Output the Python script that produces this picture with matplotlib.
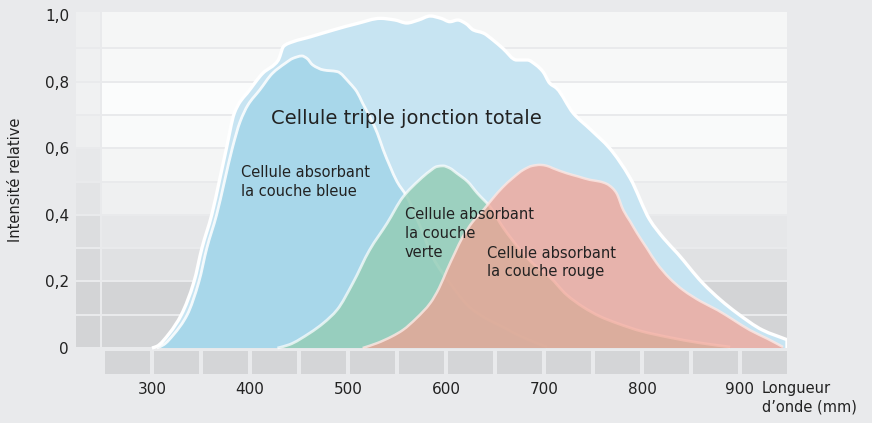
import matplotlib.pyplot as plt
from matplotlib.path import Path
from matplotlib.patches import PathPatch

# Spectral response (wavelength in nm, relative intensity)
total_nm = [300, 305, 318, 330, 343, 351, 361, 369, 376, 384, 390, 397, 413, 429, 432, 434,
            444, 461, 485, 510, 533, 548, 560, 572, 584, 595, 604, 612, 620, 628, 638, 648,
            658, 672, 683, 692, 699, 706, 713, 730, 748, 767, 788, 808, 822, 836, 862, 880,
            897, 923, 948]
total_val = [0.0, 0.005, 0.045, 0.10, 0.20, 0.30, 0.40, 0.505, 0.60, 0.705, 0.74, 0.765, 0.825,
             0.865, 0.89, 0.905, 0.92, 0.934, 0.955, 0.975, 0.99, 0.985, 0.976, 0.985, 0.997,
             0.99, 0.98, 0.985, 0.975, 0.955, 0.946, 0.925, 0.90, 0.865, 0.865, 0.85, 0.83,
             0.795, 0.78, 0.705, 0.655, 0.60, 0.51, 0.385, 0.33, 0.285, 0.195, 0.145, 0.105,
             0.054, 0.025]

blue_nm = [305, 312, 322, 336, 348, 356, 366, 374, 382, 390, 398, 410, 423, 436, 444, 453, 458,
           464, 475, 489, 502, 509, 515, 523, 530, 536, 543, 550, 560, 573, 587, 604, 624, 640,
           658, 680, 703]
blue_val = [0.0, 0.01, 0.04, 0.10, 0.20, 0.30, 0.40, 0.50, 0.60, 0.68, 0.73, 0.775, 0.825, 0.855,
            0.87, 0.877, 0.87, 0.85, 0.835, 0.83, 0.795, 0.77, 0.735, 0.69, 0.645, 0.595, 0.545,
            0.50, 0.455, 0.37, 0.27, 0.195, 0.123, 0.09, 0.063, 0.03, 0.003]

green_nm = [428, 440, 461, 475, 489, 505, 522, 540, 556, 573, 583, 591, 597, 604, 611, 622, 632,
            645, 658, 676, 690, 706, 723, 740, 757, 774, 800, 826, 860, 890]
green_val = [0.0, 0.01, 0.045, 0.075, 0.115, 0.195, 0.294, 0.375, 0.453, 0.505, 0.53, 0.545, 0.547,
             0.54, 0.525, 0.50, 0.465, 0.424, 0.363, 0.294, 0.25, 0.213, 0.16, 0.123, 0.095, 0.075,
             0.05, 0.033, 0.015, 0.003]

red_nm = [515, 530, 545, 556, 570, 584, 593, 601, 609, 617, 627, 638, 648, 658, 668, 679, 688,
          696, 703, 709, 723, 735, 747, 757, 764, 770, 774, 781, 788, 795, 805, 815, 828, 842,
          860, 877, 893, 910, 928, 944]
red_val = [0.0, 0.015, 0.035, 0.054, 0.09, 0.135, 0.18, 0.234, 0.285, 0.333, 0.378, 0.414, 0.45,
           0.483, 0.51, 0.535, 0.547, 0.55, 0.547, 0.54, 0.525, 0.515, 0.505, 0.50, 0.493, 0.48,
           0.465, 0.414, 0.38, 0.345, 0.30, 0.255, 0.21, 0.174, 0.14, 0.114, 0.085, 0.054,
           0.028, 0.003]

y_ticks = [0, 0.2, 0.4, 0.6, 0.8, 1.0]
y_tick_labels = ['0', '0,2', '0,4', '0,6', '0,8', '1,0']
x_ticks = [300, 400, 500, 600, 700, 800, 900]
x_tick_labels = ['300', '400', '500', '600', '700', '800', '900']

# background bands, bottom to top
row_lo = [0.0, 0.1, 0.2, 0.3, 0.4, 0.5, 0.6, 0.7, 0.8, 0.9]
row_main_colors = ['#d3d4d6', '#d3d4d6', '#e0e1e3', '#e6e7e9', '#eff0f1',
                   '#f4f5f5', '#f9fafa', '#fbfcfc', '#f7f8f8', '#f5f6f6']
row_side_colors = ['#d3d4d6', '#d3d4d6', '#d8d9db', '#dcdddf', '#e3e4e6',
                   '#e7e8ea', '#eeeff0', '#f0f1f2', '#eff0f1', '#eeeff0']
cell_lo = [250, 300, 350, 400, 450, 500, 550, 600, 650, 700, 750, 800, 850, 900]

BG = '#e9eaec'
TXT = '#222222'


def slopes(xs, ys):
    # monotone (pchip-like) tangents so the smooth curve never overshoots
    n = len(xs)
    h = [xs[i + 1] - xs[i] for i in range(n - 1)]
    d = [(ys[i + 1] - ys[i]) / h[i] for i in range(n - 1)]
    m = [d[0]] + [0.0] * (n - 2) + [d[-1]]
    for i in range(1, n - 1):
        if d[i - 1] * d[i] > 0:
            w1 = 2 * h[i] + h[i - 1]
            w2 = h[i] + 2 * h[i - 1]
            m[i] = (w1 + w2) / (w1 / d[i - 1] + w2 / d[i])
    return m


def curve_verts(xs, ys):
    m = slopes(xs, ys)
    verts = [(xs[0], ys[0])]
    codes = [Path.MOVETO]
    for i in range(len(xs) - 1):
        h = xs[i + 1] - xs[i]
        verts += [(xs[i] + h / 3, ys[i] + m[i] * h / 3),
                  (xs[i + 1] - h / 3, ys[i + 1] - m[i + 1] * h / 3),
                  (xs[i + 1], ys[i + 1])]
        codes += [Path.CURVE4] * 3
    return verts, codes


def draw_cell(ax, xs, ys, fill, alpha, edge, edge_alpha, lw, z, close_right=False):
    verts, codes = curve_verts(xs, ys)
    area = Path(verts + [(xs[-1], 0), (xs[0], 0), (xs[0], ys[0])],
                codes + [Path.LINETO, Path.LINETO, Path.CLOSEPOLY])
    ax.add_patch(PathPatch(area, facecolor=fill, alpha=alpha, lw=0, zorder=z))
    if close_right:
        verts = verts + [(xs[-1], 0)]
        codes = codes + [Path.LINETO]
    ax.add_patch(PathPatch(Path(verts, codes), fill=False, edgecolor=edge,
                           alpha=edge_alpha, lw=lw, joinstyle='round', zorder=z + 1))


fig = plt.figure(figsize=(8.72, 4.23), dpi=100, facecolor=BG)
ax = fig.add_axes([76 / 872, 1 - 374 / 423, (787 - 76) / 872, (374 - 12) / 423])
ax.set_facecolor(BG)
x0, x1 = 222.5, 948
y0, y1 = -0.078, 1.009
ax.set_xlim(x0, x1)
ax.set_ylim(y0, y1)

gap = 0.006
heights = [0.1 - gap] * 9 + [y1 - 0.9 - gap / 2]
ax.barh([r + gap / 2 for r in row_lo], x1 - 249, left=249, height=heights,
        align='edge', color=row_main_colors, lw=0, zorder=0)
ax.barh([r + gap / 2 for r in row_lo], 247 - x0, left=x0, height=heights,
        align='edge', color=row_side_colors, lw=0, zorder=0)
ax.bar([c + 1.7 for c in cell_lo], -0.069, width=50 - 3.4, bottom=-0.009,
       align='edge', color='#d4d5d7', lw=0, zorder=0)

draw_cell(ax, total_nm, total_val, '#c7e4f2', 1.0, 'white', 1.0, 2.4, 2, close_right=True)
draw_cell(ax, blue_nm, blue_val, '#a8d7ea', 1.0, 'white', 0.85, 2.0, 4)
draw_cell(ax, green_nm, green_val, '#95cdb7', 0.85, 'white', 0.7, 2.0, 6)
draw_cell(ax, red_nm, red_val, '#f69f8f', 0.7, '#fde8e4', 0.8, 1.8, 8)

ax.text(421.5, 0.69, 'Cellule triple jonction totale', fontsize=14, color=TXT,
        va='center', ha='left', zorder=10)
ax.text(391, 0.498, 'Cellule absorbant\nla couche bleue', fontsize=10.5, color=TXT,
        va='center', ha='left', linespacing=1.3, zorder=10)
# green label line by line (it sits close to the red label)
for txt, yy in [('Cellule absorbant', 0.402), ('la couche', 0.345), ('verte', 0.288)]:
    ax.text(558, yy, txt, fontsize=10.5, color=TXT, va='center', ha='left', zorder=10)
ax.text(642, 0.257, 'Cellule absorbant\nla couche rouge', fontsize=10.5, color=TXT,
        va='center', ha='left', linespacing=1.3, zorder=10)
ax.text(922.5, -0.149, 'Longueur\nd\u2019onde (mm)', fontsize=10.5, color=TXT,
        va='center', ha='left', linespacing=1.3, clip_on=False)
fig.text(15 / 872, 1 - 180 / 423, 'Intensité relative', rotation=90, fontsize=10.5,
         color=TXT, va='center', ha='center')

ax.set_yticks(y_ticks, y_tick_labels)
ax.set_xticks(x_ticks, x_tick_labels)
ax.tick_params(axis='both', length=0, labelsize=11, labelcolor=TXT)
ax.tick_params(axis='y', pad=5)
ax.tick_params(axis='x', pad=6)
for s in ax.spines.values():
    s.set_visible(False)

fig.savefig('out.png', dpi=100, facecolor=BG)
